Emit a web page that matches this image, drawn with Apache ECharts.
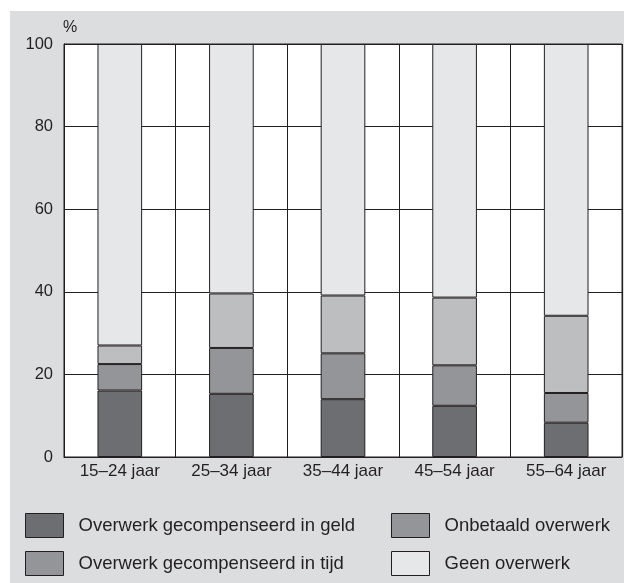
<!DOCTYPE html>
<html>
<head>
<meta charset="utf-8">
<script src="https://cdn.jsdelivr.net/npm/echarts@6/dist/echarts.min.js"></script>
<style>
html,body{margin:0;padding:0;background:#fff;}
#c{width:624px;height:583px;}
</style>
</head>
<body>
<div id="c"></div>
<script>
const categories = ['15–24 jaar', '25–34 jaar', '35–44 jaar', '45–54 jaar', '55–64 jaar'];
const geld = [16.1, 15.3, 14.0, 12.4, 8.3];
const tijd = [6.4, 11.1, 11.1, 9.8, 7.2];
const onbetaald = [4.5, 13.2, 14.0, 16.4, 18.7];
const geen = [73.0, 60.4, 60.9, 61.4, 65.8];
const yTicks = [0, 20, 40, 60, 80, 100];

const names = {
  geld: 'Overwerk gecompenseerd in geld',
  tijd: 'Overwerk gecompenseerd in tijd',
  onbetaald: 'Onbetaald overwerk',
  geen: 'Geen overwerk'
};
const textColor = '#231f20';
const edge = '#231f20';
const fontFamily = 'Liberation Sans, Arial, sans-serif';

const chart = echarts.init(document.getElementById('c'), null, {renderer: 'canvas'});

function bar(name, data, color) {
  return {
    name: name, type: 'bar', stack: 'all', data: data, barWidth: '40%',
    itemStyle: {color: color, borderColor: edge, borderWidth: 1},
    emphasis: {disabled: true}
  };
}

function legendItem(name, color, left, top) {
  return {
    left: left, top: top, padding: 0, orient: 'horizontal',
    itemWidth: 38, itemHeight: 24, icon: 'rect', selectedMode: false,
    data: [{name: name, itemStyle: {color: color, borderColor: edge, borderWidth: 1}}],
    textStyle: {fontSize: 18.5, color: textColor, fontFamily: fontFamily, padding: [10, 0, 0, 10]}
  };
}

chart.setOption({
  animation: false,
  backgroundColor: '#ffffff',
  textStyle: {fontFamily: fontFamily},
  graphic: [{
    type: 'rect', z: -10, silent: true,
    shape: {x: 10, y: 11, width: 624 - 10, height: 583 - 11},
    style: {fill: '#dcdddf'}
  }],
  grid: {
    left: 64, right: 2, top: 44, bottom: 126,
    show: true, backgroundColor: '#ffffff', borderColor: edge, borderWidth: 1
  },
  legend: [
    legendItem(names.geld, '#6d6e71', 25, 513),
    legendItem(names.tijd, '#939598', 25, 551),
    legendItem(names.onbetaald, '#939598', 391, 513),
    legendItem(names.geen, '#e6e7e8', 391, 551)
  ],
  xAxis: {
    type: 'category', data: categories,
    axisLine: {show: true, lineStyle: {color: edge, width: 1}},
    axisTick: {show: false},
    splitLine: {show: true, lineStyle: {color: edge, width: 1}},
    axisLabel: {fontSize: 17, color: textColor, margin: 6, interval: 0}
  },
  yAxis: {
    type: 'value', min: yTicks[0], max: yTicks[yTicks.length - 1], interval: 20,
    name: '%', nameLocation: 'end', nameGap: 8,
    nameTextStyle: {fontSize: 16, color: textColor, align: 'left', verticalAlign: 'bottom', padding: [0, 0, 0, -1]},
    axisLine: {show: true, lineStyle: {color: edge, width: 1}},
    axisTick: {show: false},
    splitLine: {show: true, lineStyle: {color: edge, width: 1}},
    axisLabel: {fontSize: 16.5, color: textColor, margin: 11}
  },
  series: [
    bar(names.geld, geld, '#6d6e71'),
    bar(names.tijd, tijd, '#939598'),
    bar(names.onbetaald, onbetaald, '#bcbec0'),
    bar(names.geen, geen, '#e6e7e8')
  ]
});
</script>
</body>
</html>
